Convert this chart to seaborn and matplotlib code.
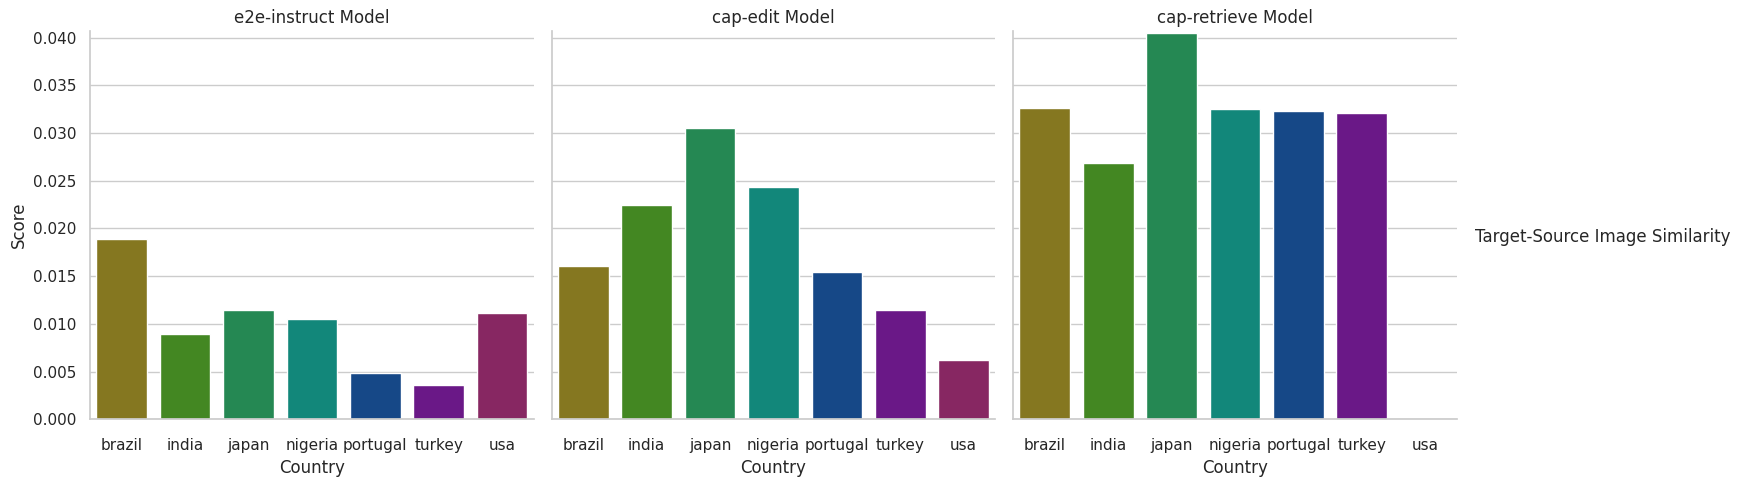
import matplotlib
matplotlib.use('Agg')
import matplotlib.pyplot as plt
import seaborn as sns
import pandas as pd

# values
countries = ['brazil', 'india', 'japan', 'nigeria', 'portugal', 'turkey', 'usa']
models = ['e2e-instruct', 'cap-edit', 'cap-retrieve']
e2e_instruct = [0.0189, 0.0089, 0.0115, 0.0105, 0.0048, 0.0036, 0.0111]
cap_edit = [0.0161, 0.0225, 0.0305, 0.0243, 0.0154, 0.0114, 0.0062]
cap_retrieve = [0.0326, 0.0269, 0.0405, 0.0325, 0.0323, 0.0321, 0.0]
colors = ['#857720', '#438722', '#258853', '#12877a', '#164887', '#6a1887', '#872762']

rows = []
for model, scores in zip(models, [e2e_instruct, cap_edit, cap_retrieve]):
    for country, score in zip(countries, scores):
        rows.append({'Model': model, 'Country': country, 'Score': score})
df = pd.DataFrame(rows)

sns.set_theme(style="whitegrid")

g = sns.catplot(data=df, x='Country', y='Score', col='Model', hue='Country',
                kind='bar', palette=colors, saturation=1, legend=False,
                col_order=models, order=countries, height=4.83, aspect=1.2)
g.set_titles("{col_name} Model")
g.set(ylim=(0, 0.0407))
for ax in g.axes.flat:
    ax.tick_params(axis='x', pad=7.5)
g.figure.set_size_inches(17.44, 4.83)
g.figure.subplots_adjust(left=0.0516, right=0.8354, top=0.936, bottom=0.132, wspace=0.04)
g.figure.text(1475 / 1744, 0.51, 'Target-Source Image Similarity', fontsize=12,
              ha='left', va='center', color='.15')

plt.savefig('out.png', dpi=100)
plt.close()
